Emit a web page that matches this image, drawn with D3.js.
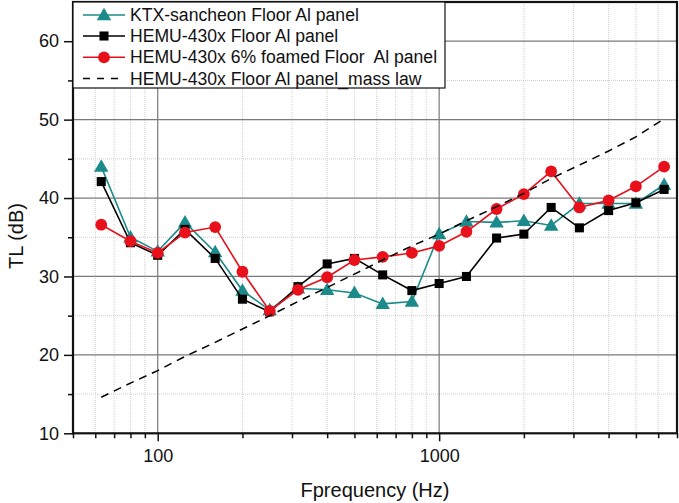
<!DOCTYPE html>
<html><head><meta charset="utf-8">
<script src="https://cdn.jsdelivr.net/npm/d3@7"></script>
<style>
body{margin:0;background:#fff;}
svg{display:block;font-family:"Liberation Sans",Arial,sans-serif;}
</style></head>
<body>
<svg id="chart" width="679" height="503"></svg>
<script>
const freqs = [63,80,100,125,160,200,250,315,400,500,630,800,1000,1250,1600,2000,2500,3150,4000,5000,6300];
const ktx   = [44.0,35.0,33.2,36.9,33.1,28.2,25.7,28.5,28.3,27.9,26.5,26.8,35.4,37.0,36.9,37.1,36.5,39.3,39.3,39.3,41.7];
const hemu  = [42.1,34.3,32.7,36.0,32.3,27.1,25.5,28.7,31.6,32.3,30.2,28.2,29.1,30.0,34.9,35.4,38.8,36.2,38.4,39.4,41.1];
const foam  = [36.6,34.5,33.0,35.6,36.3,30.6,25.6,28.3,29.9,32.1,32.5,33.0,33.9,35.7,38.6,40.5,43.4,38.8,39.7,41.5,44.0];
const mass  = [14.6,16.4,18.0,19.8,21.6,23.3,25.0,26.8,28.6,30.3,32.1,33.9,35.4,37.1,38.9,40.6,42.5,44.2,46.0,47.8,50.1];
const seriesNames = ["KTX-sancheon Floor Al panel","HEMU-430x Floor Al panel","HEMU-430x 6% foamed Floor  Al panel","HEMU-430x Floor Al panel_mass law"];
const xMajor = [100,1000];
const xMinor = [50,60,70,80,90,200,300,400,500,600,700,800,900,2000,3000,4000,5000,6000,7000];
const yMajor = [10,20,30,40,50,60];
const yMinor = [15,25,35,45,55,65];

const svg = d3.select("#chart");
const L=73,R=677,T=2,B=433.3;
const x = d3.scaleLog().domain([50,7000]).range([L,R]);
const y = d3.scaleLinear().domain([10,65]).range([B,T]);

const teal="#1b8a8a", red="#e8101a";

// grid
const g = svg.append("g");
g.selectAll(".vmin").data(xMinor.filter(d=>d>50&&d<7000)).join("line")
 .attr("x1",d=>x(d)).attr("x2",d=>x(d)).attr("y1",T).attr("y2",B)
 .attr("stroke","#cfcfcf").attr("stroke-width",1).attr("stroke-dasharray","1,1");
g.selectAll(".hmin").data(yMinor.filter(d=>d<65)).join("line")
 .attr("x1",L).attr("x2",R).attr("y1",d=>y(d)).attr("y2",d=>y(d))
 .attr("stroke","#cfcfcf").attr("stroke-width",1).attr("stroke-dasharray","1,1");
g.selectAll(".vmaj").data(xMajor).join("line")
 .attr("x1",d=>x(d)).attr("x2",d=>x(d)).attr("y1",T).attr("y2",B)
 .attr("stroke","#7a7a7a").attr("stroke-width",1.2);
g.selectAll(".hmaj").data(yMajor.filter(d=>d>10)).join("line")
 .attr("x1",L).attr("x2",R).attr("y1",d=>y(d)).attr("y2",d=>y(d))
 .attr("stroke","#7a7a7a").attr("stroke-width",1.2);

// axes
const xAxisMaj = d3.axisBottom(x).tickValues(xMajor).tickSize(8).tickPadding(8).tickFormat(d3.format("d"));
const xAxisMin = d3.axisBottom(x).tickValues(xMinor).tickSize(5).tickFormat("");
const yAxisMaj = d3.axisLeft(y).tickValues(yMajor).tickSize(9).tickPadding(5).tickFormat(d3.format("d"));
const yAxisMin = d3.axisLeft(y).tickValues(yMinor.filter(d=>d<65)).tickSize(5).tickFormat("");
function styleAxis(sel){
  sel.select(".domain").remove();
  sel.selectAll("line").attr("stroke","#111").attr("stroke-width",1.5);
  sel.selectAll("text").attr("font-size",18).attr("fill","#111").attr("font-family","Liberation Sans, Arial, sans-serif");
}
svg.append("g").attr("transform",`translate(0,${B})`).call(xAxisMin).call(styleAxis);
svg.append("g").attr("transform",`translate(0,${B})`).call(xAxisMaj).call(styleAxis);
svg.append("g").attr("transform",`translate(${L},0)`).call(yAxisMin).call(styleAxis);
svg.append("g").attr("transform",`translate(${L},0)`).call(yAxisMaj).call(styleAxis);

// frame
svg.append("rect").attr("x",L).attr("y",T).attr("width",R-L).attr("height",B-T)
 .attr("fill","none").attr("stroke","#111").attr("stroke-width",2.2);

// series
const line = d3.line().x((d,i)=>x(freqs[i])).y(d=>y(d));
const tri = d3.symbol().type(d3.symbolTriangle).size(90);
const sq = d3.symbol().type(d3.symbolSquare).size(82);

function drawSeries(vals,color,kind){
  svg.append("path").attr("d",line(vals)).attr("fill","none").attr("stroke",color).attr("stroke-width",1.6);
  const pts = svg.append("g");
  if(kind==="circle"){
    pts.selectAll("circle").data(vals).join("circle")
     .attr("cx",(d,i)=>x(freqs[i])).attr("cy",d=>y(d)).attr("r",5.9).attr("fill",color);
  } else {
    pts.selectAll("path").data(vals).join("path")
     .attr("transform",(d,i)=>`translate(${x(freqs[i])},${y(d)+(kind==="tri"?1:0)})`)
     .attr("d",kind==="tri"?tri():sq()).attr("fill",color);
  }
}
drawSeries(ktx,teal,"tri");
drawSeries(hemu,"#000","sq");
drawSeries(foam,red,"circle");
svg.append("path").attr("d",line(mass)).attr("fill","none").attr("stroke","#000")
 .attr("stroke-width",1.5).attr("stroke-dasharray","8,6");

// legend
const lg = svg.append("g");
lg.append("rect").attr("x",L).attr("y",T).attr("width",372).attr("height",86)
 .attr("fill","#fff").attr("stroke","#111").attr("stroke-width",1.2);
const rows=[21,42,63.3,84.5];
const kinds=[["tri",teal],["sq","#000"],["circle",red],["dash","#000"]];
rows.forEach((by,i)=>{
  const cy=by-6;
  const [k,c]=kinds[i];
  lg.append("line").attr("x1",83).attr("x2",125).attr("y1",cy).attr("y2",cy)
   .attr("stroke",c).attr("stroke-width",1.6).attr("stroke-dasharray",k==="dash"?"7,7":null);
  if(k==="tri") lg.append("path").attr("transform",`translate(104,${cy+1})`).attr("d",tri()).attr("fill",c);
  if(k==="sq") lg.append("path").attr("transform",`translate(104,${cy})`).attr("d",sq()).attr("fill",c);
  if(k==="circle") lg.append("circle").attr("cx",104).attr("cy",cy).attr("r",5.9).attr("fill",c);
  lg.append("text").attr("x",130).attr("y",by).attr("font-size",17.6).attr("fill","#111")
   .style("white-space","pre").text(seriesNames[i]);
});

// titles
svg.append("text").attr("x",(L+R)/2).attr("y",497).attr("text-anchor","middle")
 .attr("font-size",20).attr("fill","#111").text("Fprequency (Hz)");
svg.append("text").attr("transform","translate(23,236) rotate(-90)").attr("text-anchor","middle")
 .attr("font-size",20).attr("fill","#111").text("TL (dB)");
</script>
</body></html>
